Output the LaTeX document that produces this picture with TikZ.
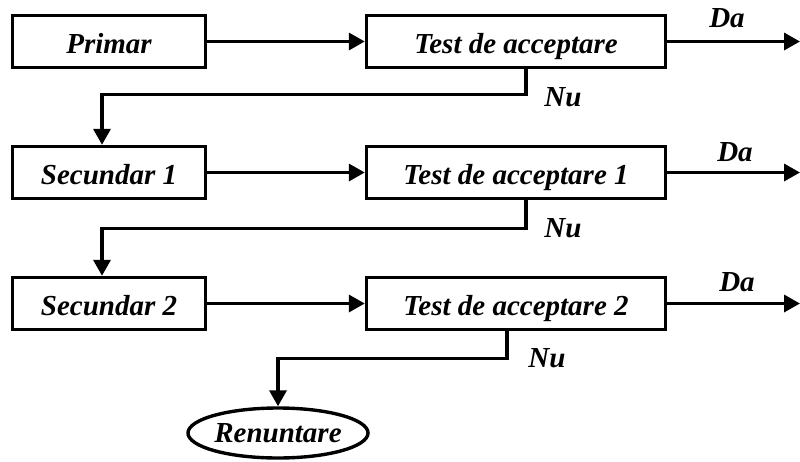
\documentclass[tikz,border=0pt]{standalone}
\usepackage{fontspec}
\setmainfont{Liberation Serif}
\usetikzlibrary{arrows.meta,shapes.geometric}

\begin{document}
\begin{tikzpicture}[x=1pt,y=-1pt,
  line width=3.4pt,
  every node/.style={font=\fontsize{29}{31}\selectfont\bfseries\itshape},
  box/.style={draw,rectangle,minimum height=52pt,inner sep=0pt,
              text height=28pt,text depth=5pt},
  stage/.style={box,minimum width=193pt},
  test/.style={box,minimum width=299pt},
  endnode/.style={draw,ellipse,minimum width=176pt,minimum height=50pt,inner sep=0pt,
                  text height=24pt,text depth=5pt},
  arr/.style={-{Triangle[length=16pt,width=17pt]}},
  lbl/.style={inner sep=0pt}
]
\useasboundingbox (0,0) rectangle (800,461);

% processing stages
\node[stage] (p)  at (109,41.5)  {Primar};
\node[stage] (s1) at (109,172.5) {Secundar 1};
\node[stage] (s2) at (109,303.5) {Secundar 2};

% acceptance tests
\node[test] (t0) at (516,41.5)  {Test de acceptare};
\node[test] (t1) at (516,172.5) {Test de acceptare 1};
\node[test] (t2) at (516,303.5) {Test de acceptare 2};

% final outcome
\node[endnode] (r) at (278,433) {Renuntare};

% exits on success
\coordinate (o0) at (800,41.5);
\coordinate (o1) at (800,172.5);
\coordinate (o2) at (800,303.5);

% stage -> test
\draw[arr] (p)  -- (t0);
\draw[arr] (s1) -- (t1);
\draw[arr] (s2) -- (t2);

% "Da" branches
\draw[arr] (t0) -- (o0);
\draw[arr] (t1) -- (o1);
\draw[arr] (t2) -- (o2);
\node[lbl] (da0) at (727,18)  {Da};
\node[lbl] (da1) at (735,152) {Da};
\node[lbl] (da2) at (737,282) {Da};

% "Nu" branches
\draw[arr] ([xshift=10pt]t0.south) -- ++(0,25.5) -| ([xshift=-7pt]s1.north);
\draw[arr] ([xshift=10pt]t1.south) -- ++(0,28.5) -| ([xshift=-7pt]s2.north);
\draw[arr] ([xshift=-9pt]t2.south) -- ++(0,27.5) -| (r.north);
\node[lbl] (nu0) at (563,97)  {Nu};
\node[lbl] (nu1) at (563,228) {Nu};
\node[lbl] (nu2) at (547,358) {Nu};
\end{tikzpicture}
\end{document}
